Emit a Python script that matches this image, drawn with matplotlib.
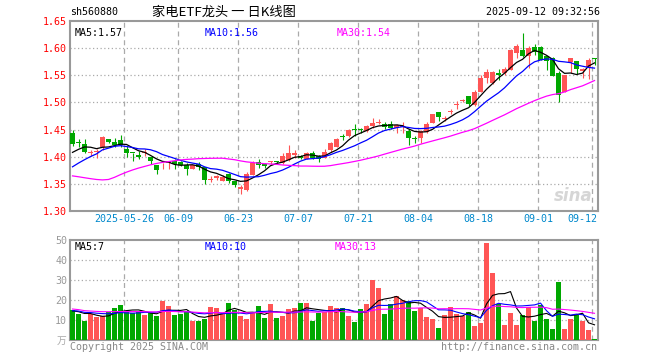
import numpy as np
import pandas as pd
import matplotlib
matplotlib.use("Agg")
import matplotlib.pyplot as plt

plt.rcParams['font.family'] = ['DejaVu Sans Mono', 'Noto Sans CJK SC']

# daily bars, 2025-05-13 .. 2025-09-12 (88 trading days)
open_ = [1.443, 1.426, 1.423, 1.406, 1.409, 1.417, 1.433, 1.428, 1.430, 1.414,
         1.407, 1.404, 1.406, 1.400, 1.385, 1.382, 1.388, 1.393, 1.390, 1.385,
         1.378, 1.386, 1.381, 1.358, 1.360, 1.355, 1.368, 1.355, 1.340, 1.338,
         1.366, 1.391, 1.386, 1.390, 1.391, 1.389, 1.394, 1.403, 1.401, 1.396,
         1.406, 1.401, 1.398, 1.412, 1.418, 1.437, 1.439, 1.451, 1.451, 1.447,
         1.456, 1.463, 1.461, 1.461, 1.453, 1.455, 1.447, 1.433, 1.434, 1.445,
         1.463, 1.482, 1.469, 1.483, 1.495, 1.503, 1.511, 1.496, 1.520, 1.545,
         1.536, 1.554, 1.554, 1.560, 1.591, 1.597, 1.585, 1.602, 1.602, 1.585,
         1.581, 1.554, 1.519, 1.575, 1.577, 1.558, 1.566, 1.581]
high = [1.449, 1.432, 1.433, 1.412, 1.415, 1.438, 1.433, 1.435, 1.440, 1.420,
        1.407, 1.410, 1.415, 1.400, 1.385, 1.388, 1.393, 1.395, 1.392, 1.389,
        1.385, 1.390, 1.381, 1.364, 1.366, 1.367, 1.370, 1.355, 1.347, 1.372,
        1.392, 1.396, 1.389, 1.392, 1.392, 1.406, 1.421, 1.412, 1.403, 1.408,
        1.410, 1.403, 1.414, 1.427, 1.435, 1.441, 1.451, 1.461, 1.453, 1.458,
        1.472, 1.469, 1.464, 1.465, 1.460, 1.464, 1.451, 1.438, 1.450, 1.464,
        1.478, 1.482, 1.475, 1.488, 1.502, 1.507, 1.511, 1.522, 1.551, 1.562,
        1.557, 1.562, 1.565, 1.599, 1.608, 1.628, 1.604, 1.608, 1.604, 1.585,
        1.583, 1.557, 1.551, 1.582, 1.577, 1.563, 1.582, 1.581]
low = [1.420, 1.417, 1.407, 1.401, 1.397, 1.412, 1.425, 1.417, 1.417, 1.400,
       1.392, 1.395, 1.401, 1.386, 1.369, 1.378, 1.378, 1.378, 1.382, 1.367,
       1.377, 1.375, 1.349, 1.353, 1.358, 1.355, 1.351, 1.344, 1.332, 1.336,
       1.366, 1.380, 1.380, 1.386, 1.387, 1.386, 1.392, 1.398, 1.396, 1.395,
       1.395, 1.390, 1.397, 1.409, 1.417, 1.431, 1.437, 1.438, 1.443, 1.445,
       1.452, 1.461, 1.451, 1.451, 1.444, 1.443, 1.421, 1.425, 1.426, 1.444,
       1.462, 1.466, 1.466, 1.478, 1.487, 1.501, 1.493, 1.494, 1.520, 1.536,
       1.534, 1.542, 1.550, 1.559, 1.582, 1.583, 1.564, 1.588, 1.578, 1.559,
       1.548, 1.501, 1.519, 1.554, 1.553, 1.545, 1.544, 1.569]
close = [1.423, 1.425, 1.409, 1.407, 1.410, 1.436, 1.428, 1.421, 1.421, 1.407,
         1.406, 1.400, 1.407, 1.392, 1.375, 1.383, 1.393, 1.386, 1.384, 1.378,
         1.385, 1.381, 1.357, 1.359, 1.365, 1.362, 1.355, 1.347, 1.344, 1.369,
         1.389, 1.385, 1.383, 1.391, 1.390, 1.401, 1.406, 1.407, 1.397, 1.407,
         1.398, 1.396, 1.409, 1.426, 1.433, 1.436, 1.449, 1.450, 1.450, 1.456,
         1.463, 1.464, 1.455, 1.453, 1.458, 1.456, 1.434, 1.432, 1.447, 1.461,
         1.478, 1.474, 1.470, 1.484, 1.496, 1.504, 1.497, 1.519, 1.545, 1.556,
         1.556, 1.550, 1.562, 1.596, 1.604, 1.585, 1.601, 1.593, 1.579, 1.576,
         1.548, 1.514, 1.551, 1.582, 1.562, 1.561, 1.579, 1.580]
volume = [14.8, 13.0, 9.5, 13.0, 11.7, 12.0, 14.0, 16.0, 17.5, 14.0,
          13.5, 14.2, 12.5, 13.3, 12.0, 19.5, 17.0, 12.5, 13.0, 14.2,
          9.5, 9.5, 10.5, 16.5, 16.0, 13.0, 18.5, 15.0, 12.0, 10.5,
          13.5, 17.0, 11.0, 18.0, 11.0, 12.0, 15.5, 16.0, 18.5, 18.5,
          9.5, 13.5, 14.0, 17.0, 16.2, 16.0, 12.0, 9.0, 15.5, 18.0,
          30.0, 26.0, 13.0, 18.0, 22.0, 20.0, 19.5, 14.5, 16.0, 11.5,
          10.5, 6.0, 12.5, 16.5, 13.0, 12.0, 14.0, 7.0, 8.5, 48.5,
          33.5, 18.0, 7.5, 13.5, 7.5, 12.5, 16.5, 9.5, 17.5, 10.5,
          5.5, 29.0, 5.5, 10.5, 12.5, 9.5, 5.0, 0.5]

# estimated closes / volumes of the 29 days before the window (feed the MA lines)
prior_close = [1.473, 1.463, 1.458, 1.455, 1.460, 1.404, 1.301, 1.271, 1.272, 1.286,
               1.295, 1.317, 1.302, 1.300, 1.323, 1.348, 1.341, 1.339, 1.348, 1.370,
               1.356, 1.347, 1.349, 1.361, 1.361, 1.397, 1.387, 1.4095, 1.4235]
prior_volume = [22, 25, 19, 17, 16, 15, 14, 16, 15, 14, 13, 15, 16, 14, 13,
                14, 15, 16, 14, 15, 15, 16, 14, 15, 14, 15, 14, 13, 16]

tick_idx = [9, 18, 28, 38, 48, 58, 68, 78, 87]
tick_labels = ["2025-05-26", "06-09", "06-23", "07-07", "07-21",
               "08-04", "08-18", "09-01", "09-12"]

RED = "#FF5555"
GREEN = "#00A800"
GRID = "#AAAAAA"
FRAME = "#999999"

n = len(close)
x = np.arange(n) + 0.42
up = np.array(close) >= np.array(open_)
colors = [RED if u else GREEN for u in up]

all_close = pd.Series(prior_close + close)
all_vol = pd.Series(prior_volume + volume)
ma_c = {k: all_close.rolling(k).mean().values[-n:] for k in (5, 10, 30)}
ma_v = {k: all_vol.rolling(k).mean().values[-n:] for k in (5, 10, 30)}
ma_colors = {5: "black", 10: "#0000FF", 30: "#FF00FF"}

W, H = 660, 360
fig = plt.figure(figsize=(W / 100, H / 100), dpi=100)
fig.patch.set_facecolor("white")


def box(l, t, r, b):
    return [l / W, 1 - b / H, (r - l) / W, (b - t) / H]


def ftext(px, py, s, **kw):
    fig.text(px / W, 1 - py / H, s, **kw)


ax = fig.add_axes(box(70, 21, 598, 211))
av = fig.add_axes(box(70, 240, 598, 340))

# candles
body_lo = np.minimum(open_, close)
body_h = np.maximum(np.abs(np.array(close) - np.array(open_)), 0.0018)
ax.vlines(x, low, high, colors=colors, lw=0.8, zorder=3)
ax.bar(x, body_h, bottom=body_lo, width=0.83, color=colors, lw=0, zorder=4)
for k in (5, 10, 30):
    ax.plot(x, ma_c[k], color=ma_colors[k], lw=0.9, zorder=5)

ax.set_xlim(0, 88)
ax.set_ylim(1.30, 1.65)
ax.set_yticks(np.arange(1.30, 1.651, 0.05))
ax.set_yticklabels([f"{v:.2f}" for v in np.arange(1.30, 1.651, 0.05)])
for v in np.arange(1.35, 1.64, 0.05):
    ax.axhline(v, color=GRID, lw=0.9, ls=(0, (1, 2)), zorder=1)

# volume
av.bar(x, volume, width=0.83, color=colors, lw=0, zorder=3)
for k in (5, 10, 30):
    av.plot(x, ma_v[k], color=ma_colors[k], lw=0.8, zorder=5)
av.set_xlim(0, 88)
av.set_ylim(0, 50)
av.set_yticks([10, 20, 30, 40, 50])
for v in (10, 20, 30, 40):
    av.axhline(v, color=GRID, lw=0.9, ls=(0, (1, 2)), zorder=1)

for a in (ax, av):
    for t in tick_idx:
        a.axvline(t, color=GRID, lw=0.9, ls=(0, (4, 3)), zorder=1)
    a.set_xticks([])
    for s in a.spines.values():
        s.set_color(FRAME)
        s.set_linewidth(1.5)
    a.tick_params(axis="y", length=0, pad=2, labelsize=7.2)

for lab in ax.get_yticklabels():
    lab.set_color("red")
for lab in av.get_yticklabels():
    lab.set_color("#999999")

# date labels
for t, s in zip(tick_idx, tick_labels):
    ha = "right" if t == tick_idx[-1] else "center"
    xx = 70 + 6 * t + (5 if ha == "right" else 0)
    ftext(xx, 219, s, color="#0088CC", fontsize=7.2, ha=ha, va="center")

# header
ftext(70, 12, "sh560880", fontsize=7.2, ha="left", va="center")
ftext(152, 12, "家电ETF龙头 一 日K线图", fontsize=9.5, ha="left", va="center",
      family=["Noto Sans CJK SC", "DejaVu Sans"])
ftext(600, 12, "2025-09-12 09:32:56", fontsize=7.2, ha="right", va="center")

# MA legends
ftext(75, 33, "MA5:1.57", fontsize=7.2, color="black", va="center")
ftext(205, 33, "MA10:1.56", fontsize=7.2, color="#0000FF", va="center")
ftext(337, 33, "MA30:1.54", fontsize=7.2, color="#FF00FF", va="center")
ftext(75, 247, "MA5:7", fontsize=7.2, color="black", va="center")
ftext(205, 247, "MA10:10", fontsize=7.2, color="#0000FF", va="center")
ftext(335, 247, "MA30:13", fontsize=7.2, color="#FF00FF", va="center")

ftext(66, 341, "万", fontsize=7, color="#AAAAAA", ha="right", va="center",
      family=["Noto Sans CJK SC"])
ftext(70, 347, "Copyright 2025 SINA.COM", fontsize=7.2, color="#888888", va="center")
ftext(597, 347, "http://finance.sina.com.cn", fontsize=7.2, color="#888888",
      ha="right", va="center")

# watermark
ftext(573, 196, "sina", fontsize=12, color="#CCCCCC", style="italic",
      weight="bold", ha="center", va="center", family=["DejaVu Sans"], alpha=0.8)

fig.savefig("out.png", dpi=100)
